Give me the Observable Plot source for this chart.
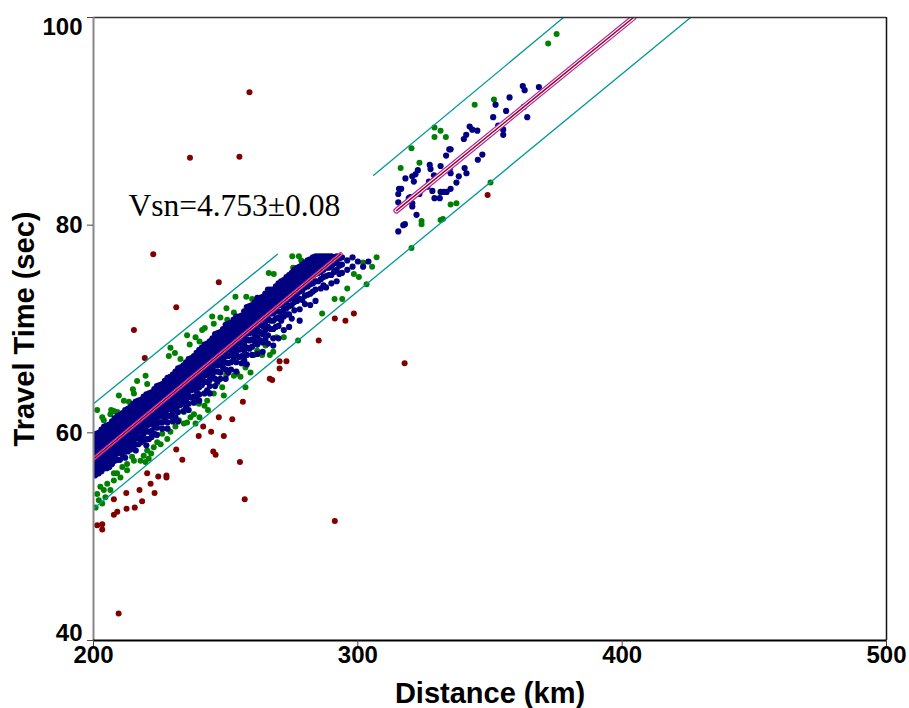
<!DOCTYPE html>
<html>
<head>
<meta charset="utf-8">
<script src="https://cdn.jsdelivr.net/npm/d3@7"></script>
<script src="https://cdn.jsdelivr.net/npm/@observablehq/plot@0.6"></script>
<style>
  html, body { margin: 0; padding: 0; background: white; }
  #chart svg { display: block; }
</style>
</head>
<body>
<div id="chart"></div>
<script>
// ---- axes ----
const xTicks = [200, 300, 400, 500];
const yTicks = [40, 60, 80, 100];
const xLabel = "Distance (km)";
const yLabel = "Travel Time (sec)";
const annotation = { x: 213.2, y: 83.0, text: "Vsn=4.753\u00b10.08" };

// ---- blue points (within ~2-3 s of the fit), columns [x, [y...]] ----
const blueCols = [
  [200.5, [59.8, 59.3, 58.8, 58.3, 57.8, 57.3, 56.8, 56.3, 55.9]],
  [201, [59.9, 59.4, 58.9, 58.4, 57.9, 57.4, 56.9, 56.4, 56.0]],
  [202, [60.0, 59.5, 59.0, 58.5, 58.0, 57.5, 57.0, 56.5, 56.1]],
  [203, [60.3, 59.8, 59.3, 58.8, 58.3, 57.8, 57.3, 56.8, 56.3]],
  [204, [60.6, 60.1, 59.6, 59.1, 58.6, 58.1, 57.6, 57.1, 56.6]],
  [205, [60.7, 60.2, 59.7, 59.2, 58.7, 58.2, 57.7, 57.2, 56.6]],
  [206, [60.8, 60.3, 59.8, 59.3, 58.8, 58.3, 57.8, 57.3, 56.7]],
  [207, [61.1, 60.6, 60.1, 59.6, 59.1, 58.6, 58.1, 57.6, 57.0]],
  [208, [61.4, 60.9, 60.4, 59.9, 59.4, 58.9, 58.4, 57.9, 57.3]],
  [209, [61.6, 61.1, 60.6, 60.1, 59.5, 59.0, 58.5, 58.0, 57.4]],
  [210, [61.7, 61.2, 60.7, 60.2, 59.7, 59.2, 58.7, 58.1, 57.4]],
  [211, [61.9, 61.4, 60.9, 60.4, 59.9, 59.4, 58.9, 58.4, 57.9]],
  [212, [62.2, 61.7, 61.2, 60.7, 60.2, 59.7, 59.2, 58.7, 58.2, 57.6]],
  [213, [62.3, 61.8, 61.3, 60.8, 60.3, 59.8, 59.3, 58.8, 58.2]],
  [214, [62.5, 62.0, 61.5, 61.0, 60.5, 60.0, 59.5, 58.9, 58.4]],
  [215, [62.8, 62.3, 61.8, 61.3, 60.8, 60.3, 59.7, 59.2, 58.6]],
  [216, [63.0, 62.5, 62.0, 61.5, 61.0, 60.5, 60.0, 59.5, 58.9, 58.3]],
  [217, [63.1, 62.6, 62.1, 61.6, 61.1, 60.6, 60.1, 59.5, 58.9]],
  [218, [63.2, 62.7, 62.2, 61.7, 61.2, 60.7, 60.2, 59.6, 59.1]],
  [219, [63.5, 63.0, 62.5, 62.0, 61.5, 61.0, 60.4, 59.9, 59.3]],
  [220, [63.7, 63.2, 62.7, 62.2, 61.7, 61.2, 60.7, 60.2, 59.4, 58.8]],
  [221, [63.8, 63.3, 62.8, 62.3, 61.8, 61.3, 60.8, 60.1, 59.4]],
  [222, [63.9, 63.4, 62.9, 62.4, 61.9, 61.4, 60.9, 60.2, 59.6]],
  [223, [64.2, 63.7, 63.2, 62.7, 62.2, 61.7, 61.2, 60.6, 59.9]],
  [224, [64.5, 64.0, 63.5, 63.0, 62.5, 62.0, 61.5, 61.0, 60.5, 59.8]],
  [225, [64.6, 64.1, 63.6, 63.1, 62.6, 62.1, 61.6, 61.0]],
  [226, [64.7, 64.2, 63.7, 63.2, 62.7, 62.2, 61.7, 61.0, 60.4]],
  [227, [65.0, 64.5, 64.0, 63.5, 63.0, 62.5, 62.0, 61.3]],
  [228, [65.3, 64.8, 64.3, 63.8, 63.3, 62.8, 62.3, 61.7, 61.0, 60.4]],
  [229, [65.4, 64.9, 64.4, 63.9, 63.4, 62.9, 62.3, 61.6]],
  [230, [65.6, 65.1, 64.6, 64.1, 63.6, 63.1, 62.5, 61.9, 61.1]],
  [231, [65.9, 65.4, 64.9, 64.4, 63.9, 63.4, 62.8, 62.2, 61.5]],
  [232, [66.2, 65.7, 65.2, 64.7, 64.2, 63.7, 63.2, 62.6, 62.0, 61.1]],
  [233, [66.3, 65.8, 65.3, 64.8, 64.3, 63.8, 63.3, 62.7]],
  [234, [66.5, 66.0, 65.5, 65.0, 64.5, 64.0, 63.5, 62.9, 62.1]],
  [235, [66.8, 66.3, 65.8, 65.3, 64.8, 64.3, 63.7, 63.1, 62.4]],
  [236, [67.1, 66.6, 66.1, 65.6, 65.1, 64.6, 64.0, 63.5, 62.8, 62.2]],
  [237, [67.2, 66.7, 66.2, 65.7, 65.2, 64.7, 64.1, 63.4]],
  [238, [67.4, 66.9, 66.4, 65.9, 65.4, 64.9, 64.3, 63.5, 62.9]],
  [239, [67.7, 67.2, 66.7, 66.2, 65.7, 65.2, 64.6, 64.0, 63.3]],
  [240, [68.0, 67.5, 67.0, 66.5, 66.0, 65.5, 65.0, 64.4, 63.7, 63.1]],
  [241, [68.2, 67.7, 67.2, 66.7, 66.2, 65.7, 65.2, 64.6]],
  [242, [68.5, 68.0, 67.5, 67.0, 66.5, 66.0, 65.5, 64.9, 63.8]],
  [243, [68.6, 68.1, 67.6, 67.1, 66.6, 66.1, 65.6, 64.9, 64.1]],
  [244, [68.8, 68.3, 67.8, 67.3, 66.8, 66.3, 65.8, 65.1, 64.5, 63.8]],
  [245, [69.1, 68.6, 68.1, 67.6, 67.1, 66.6, 66.1, 65.5]],
  [246, [69.5, 69.0, 68.5, 68.0, 67.5, 67.0, 66.5, 65.9, 65.2, 64.5]],
  [247, [69.6, 69.1, 68.6, 68.1, 67.6, 67.1, 66.5, 65.9, 65.0]],
  [248, [69.7, 69.2, 68.7, 68.2, 67.7, 67.2, 66.6, 65.8, 65.2]],
  [249, [70.0, 69.5, 69.0, 68.5, 68.0, 67.5, 67.0, 66.3]],
  [250, [70.4, 69.9, 69.4, 68.9, 68.4, 67.9, 67.4, 66.8, 66.1, 65.2]],
  [251, [70.5, 70.0, 69.5, 69.0, 68.5, 68.0, 67.4, 66.7, 65.8]],
  [252, [70.6, 70.1, 69.6, 69.1, 68.6, 68.1, 67.5, 66.8, 66.1]],
  [253, [70.9, 70.4, 69.9, 69.4, 68.9, 68.4, 67.8, 67.1]],
  [254, [71.2, 70.7, 70.2, 69.7, 69.2, 68.7, 68.1, 67.5, 66.8, 65.9]],
  [255, [71.2, 70.7, 70.2, 69.7, 69.2, 68.6, 68.0, 67.3]],
  [256, [71.3, 70.8, 70.3, 69.8, 69.3, 68.7, 68.1, 67.4, 66.7]],
  [257, [71.7, 71.2, 70.7, 70.2, 69.7, 69.2, 68.6, 67.9, 67.0]],
  [258, [72.1, 71.6, 71.1, 70.6, 70.1, 69.6, 69.0, 68.2, 67.5, 66.6]],
  [259, [72.2, 71.7, 71.2, 70.7, 70.2, 69.6, 68.9, 68.1]],
  [260, [72.3, 71.8, 71.3, 70.8, 70.3, 69.7, 69.0, 68.3, 67.5]],
  [261, [72.6, 72.1, 71.6, 71.1, 70.6, 70.1, 69.5, 68.8]],
  [262, [73.0, 72.5, 72.0, 71.5, 71.0, 70.5, 69.9, 69.2, 68.5, 67.6]],
  [263, [73.0, 72.5, 72.0, 71.5, 71.0, 70.4, 69.7, 68.9]],
  [264, [73.1, 72.6, 72.1, 71.6, 71.0, 70.3, 69.5, 68.7, 67.8]],
  [265, [73.4, 72.9, 72.4, 71.9, 71.3, 70.7, 69.9, 69.0]],
  [266, [73.8, 73.3, 72.8, 72.2, 71.6, 71.0, 70.2, 69.4, 68.6]],
  [267, [73.8, 73.3, 72.7, 72.1, 71.5, 70.8, 70.0]],
  [268, [73.8, 73.3, 72.8, 72.2, 71.5, 70.8, 70.0, 69.1, 68.4]],
  [269, [74.1, 73.6, 73.0, 72.4, 71.7, 71.0, 70.2]],
  [270, [74.4, 73.9, 73.4, 72.8, 72.3, 71.7, 71.1, 70.3, 69.1]],
  [271, [74.6, 74.0, 73.5, 72.9, 72.3, 71.6, 70.8]],
  [272, [74.7, 74.2, 73.6, 73.1, 72.5, 71.9, 71.2, 69.9]],
  [273, [75.0, 74.4, 73.8, 73.3, 72.6, 72.0, 71.4]],
  [274, [75.2, 74.7, 74.1, 73.5, 72.9, 72.2, 71.4, 70.2]],
  [275, [75.4, 74.8, 74.2, 73.6, 73.0, 72.3, 71.0]],
  [276, [75.7, 75.1, 74.5, 73.9, 73.2, 72.6, 71.8]],
  [277, [75.9, 75.3, 74.7, 74.0, 73.4, 72.7]],
  [278, [76.0, 75.5, 74.9, 74.3, 73.6, 72.9, 71.9, 70.8]],
  [279, [76.2, 75.6, 75.0, 74.4, 73.7, 72.8]],
  [280, [76.4, 75.9, 75.3, 74.7, 74.0, 73.2, 72.4]],
  [281, [76.6, 76.0, 75.4, 74.8, 74.1, 73.3]],
  [282, [76.7, 76.2, 75.6, 75.0, 74.3, 73.4, 72.3]],
  [283, [76.9, 76.3, 75.7, 75.1, 74.4, 73.6]],
  [284, [77.0, 76.5, 75.9, 75.3, 74.6, 73.8, 72.7]],
  [285, [77.0, 76.6, 76.0, 75.4, 74.6]],
  [286, [77.0, 76.7, 76.1, 75.5, 74.8, 73.9]],
  [287, [77.0, 76.4, 75.7, 75.0, 74.2]],
  [288, [77.0, 76.5, 75.9, 75.1, 74.0]],
  [289, [77.0, 76.6, 75.9, 75.2]],
  [290, [77.0, 76.6, 76.0, 75.2, 74.4]],
  [291, [76.9, 76.3, 75.5]],
  [292, [77.0, 76.4, 75.7, 74.6]],
  [293, [76.8, 76.1, 75.3]],
  [294, [76.9, 76.2, 75.4]],
  [296, [76.6, 75.7]],
  [298, [76.9, 76.0]],
  [300, [76.5]],
  [302, [76.0]],
  [304, [76.5]]
];
// blue points of the far branch
const blueFar = [
  [362.4,93.4],[363.1,93.0],[368.5,93.3],[357.4,92.3],[352.1,91.6],[356.1,91.0],[351.2,90.4],
  [362.8,91.4],[364.1,90.4],[353.1,89.6],[355.0,89.2],[355.0,88.7],[342.3,89.5],[343.3,89.2],
  [345.2,89.1],[341.0,88.7],[340.1,88.3],[334.6,87.3],[335.1,87.3],[333.4,86.7],[347.1,86.8],
  [345.4,86.3],[327.2,85.8],[327.5,85.4],[331.3,85.7],[334.8,85.4],[335.1,85.0],[340.4,85.5],
  [341.1,85.0],[338.2,84.7],[322.7,85.3],[321.8,84.9],[320.6,84.7],[321.2,84.2],[318.0,84.5],
  [328.8,84.8],[326.9,84.2],[326.3,83.7],[328.2,83.3],[337.3,84.1],[335.1,83.5],[331.3,83.2],
  [332.5,83.2],[333.6,83.2],[329.0,82.6],[331.0,82.6],[323.3,83.0],[319.9,82.7],[320.6,82.1],
  [320.6,81.8],[319.3,82.6],[315.6,83.5],[315.3,83.0],[315.3,82.2],[316.4,83.5],[322.2,81.0],
  [317.8,80.1],[317.2,80.0],[315.3,79.4]
];
// green points (about 3-5 s from the fit)
const greenPts = [
  [275.2,77.0],[277.7,77.0],[285.9,76.6],[288.7,76.8],[307.1,76.9],[305.4,76.0],[266.3,75.4],
  [268.2,75.3],[298.5,75.3],[300.4,75.0],[303.3,74.3],[296.0,73.9],[291.2,72.9],[294.1,72.9],
  [286.5,71.5],[253.7,73.1],[257.8,73.1],[260.0,72.9],[250.3,72.0],[253.1,71.6],[244.9,71.2],
  [248.0,71.1],[250.6,70.9],[242.1,70.1],[241.1,69.9],[245.5,70.5],[238.6,69.2],[235.4,69.4],
  [240.1,68.8],[236.4,68.5],[229.1,68.2],[230.8,67.7],[228.5,67.4],[232.9,67.1],[219.7,65.5],
  [216.5,65.0],[220.3,64.7],[214.9,64.2],[215.3,63.8],[209.6,63.6],[211.5,63.1],[213.4,63.0],
  [206.7,62.2],[207.7,62.1],[206.4,61.8],[209.0,62.0],[201.4,62.2],[203.3,61.5],[203.9,61.2],
  [278.6,76.6],[275.5,75.9],[302.0,76.4],
  [272.0,69.2],[269.2,69.2],[277.4,68.9],[265.1,68.4],[268.0,67.8],[266.7,67.5],[263.8,67.5],
  [260.7,67.5],[256.5,67.3],[261.9,67.9],[257.5,66.3],[259.4,65.8],[254.4,65.7],[253.1,65.5],
  [255.6,65.4],[257.5,64.4],[250.2,65.6],[246.8,64.8],[248.7,64.4],[249.3,63.6],[245.5,63.8],
  [243.0,63.1],[242.0,62.6],[243.3,62.2],[239.9,62.8],[238.0,61.8],[236.7,61.5],[234.2,62.0],
  [232.3,61.2],[234.2,60.9],[235.4,61.0],[238.6,60.9],[240.1,61.5],[231.0,60.6],[229.1,60.1],
  [226.0,59.9],[227.9,59.4],[224.1,59.1],[225.4,58.9],[222.8,58.6],[220.3,58.3],[221.8,58.0],
  [219.0,57.8],[217.8,57.3],[220.9,57.5],[219.7,57.2],[214.6,57.7],[215.3,57.3],[212.7,57.0],
  [210.9,56.7],[212.7,56.4],[208.9,56.1],[210.2,55.7],[207.7,55.4],[205.2,55.1],[202.6,54.8],
  [203.9,54.5],[201.4,54.1],[202.0,53.5],[204.5,53.8],[206.4,54.5],[203.3,53.2],[200.8,52.8],
  [207.7,56.1],
  [375.2,98.4],[372.0,97.5],[351.5,92.1],[344.2,91.6],[329.0,89.4],[329.0,88.5],[331.3,89.1],
  [333.3,88.5],[320.3,87.4],[316.2,85.5],[323.3,86.0],[350.2,84.1],[335.1,82.0],[337.3,82.1],
  [324.1,80.4],[324.1,80.1],[331.3,80.5],[332.2,80.6],[320.3,77.8]
];
// dark red points (outliers)
const redPts = [
  [222.6,77.2],[247.4,74.5],[231.3,72.1],[215.3,69.9],[219.4,67.2],[256.5,63.0],[252.5,61.3],
  [247.4,61.5],[241.5,60.6],[244.5,60.1],[249.3,59.7],[239.8,59.7],[231.3,58.4],[233.6,57.4],
  [245.3,58.2],[246.2,57.9],[255.4,57.2],[227.6,55.9],[224.5,55.8],[227.6,55.7],[220.3,56.1],
  [221.6,55.1],[217.4,54.5],[212.4,54.2],[223.1,54.2],[218.4,53.4],[207.7,53.6],[215.6,52.8],
  [212.5,52.7],[209.0,52.4],[207.7,52.1],[257.2,53.6],[291.3,51.5],[201.4,51.1],[203.3,51.2],
  [203.3,50.7],[291.3,71.0],[295.3,70.8],[298.5,71.5],[285.2,68.9],[270.4,66.9],[273.0,66.9],
  [270.4,66.2],[266.7,65.2],[267.6,65.1],[209.5,42.6],[236.5,86.5],[255.2,86.6],[259.0,92.8],
  [317.7,66.7],[349.1,82.9]
];
// fit line segments (x, y)
const fitNear = [[200, 57.5], [293.5, 77.2]];
const fitFar = [[314.6, 81.4], [404.3, 100]];
// band limits (teal)
const bandSegments = [
  [[200, 62.8], [269.6, 77.2]],
  [[306, 84.8], [377.8, 100]],
  [[200, 52.7], [425.9, 100]]
];

// ---- build tables ----
const blueRows = blueCols.flatMap(([x, ys]) => ys.map(y => ({x, y})))
  .concat(blueFar.map(([x, y]) => ({x, y})));
const greenRows = greenPts.map(([x, y]) => ({x, y}));
const redRows = redPts.map(([x, y]) => ({x, y}));
const ptRows = seg => seg.map(([x, y]) => ({x, y}));
const bandRows = bandSegments.flatMap((s, i) => s.map(([x, y]) => ({x, y, seg: i})));

const sans = "'Liberation Sans', Arial, Helvetica, sans-serif";
const serif = "'Liberation Serif', 'Times New Roman', serif";
const tickFont = { fontSize: 24, fontWeight: "bold", fill: "black" };

const fitMarks = (rows, outer, inner, core) => [
  Plot.line(rows, { x: "x", y: "y", stroke: "#b020b0", strokeWidth: outer, clip: true }),
  Plot.line(rows, { x: "x", y: "y", stroke: "#ffffff", strokeWidth: inner, clip: true }),
  Plot.line(rows, { x: "x", y: "y", stroke: "#a00010", strokeWidth: core, clip: true })
];

const chart = Plot.plot({
  width: 909,
  height: 708,
  marginLeft: 93,
  marginRight: 23,
  marginTop: 17,
  marginBottom: 68,
  style: { fontFamily: sans, background: "white", color: "black" },
  x: { domain: [200, 500] },
  y: { domain: [40, 100] },
  marks: [
    Plot.dot(redRows, { x: "x", y: "y", r: 3, fill: "#800000", stroke: "none", clip: true }),
    Plot.dot(greenRows, { x: "x", y: "y", r: 3, fill: "#008000", stroke: "none", clip: true }),
    Plot.dot(blueRows, { x: "x", y: "y", r: 3.1, fill: "#000080", stroke: "none", clip: true }),
    Plot.line(bandRows, { x: "x", y: "y", z: "seg", stroke: "#009999", strokeWidth: 1.3, clip: true }),
    ...fitMarks(ptRows(fitNear), 4.2, 2.0, 1.6),
    ...fitMarks(ptRows(fitFar), 6, 3.6, 1.4),
    Plot.ruleY([100], { stroke: "#333", strokeWidth: 1.5 }),
    Plot.ruleX([500], { stroke: "#111", strokeWidth: 1.5 }),
    Plot.ruleX([200], { stroke: "#888", strokeWidth: 2 }),
    Plot.ruleY([40], { stroke: "#000", strokeWidth: 2 }),
    Plot.axisX({ ticks: xTicks, tickSize: 6, tickPadding: -1, ...tickFont,
      label: null, tickFormat: d => String(d), stroke: "#444" }),
    Plot.axisY({ ticks: yTicks, tickSize: 6, label: null, tickFormat: () => "", stroke: "#444" }),
    Plot.text(yTicks.filter(d => d > 40 && d < 100), { y: d => d, text: d => String(d),
      frameAnchor: "left", dx: -11, textAnchor: "end", lineAnchor: "middle", ...tickFont }),
    Plot.text(yTicks.filter(d => d === 40), { y: d => d, text: d => String(d),
      frameAnchor: "left", dx: -11, dy: -17, textAnchor: "end", lineAnchor: "top", ...tickFont }),
    Plot.text(yTicks.filter(d => d === 100), { y: d => d, text: d => String(d),
      frameAnchor: "left", dx: -11, dy: 0, textAnchor: "end", lineAnchor: "top", ...tickFont }),
    Plot.text([xLabel], { frameAnchor: "bottom", lineAnchor: "top", textAnchor: "middle", dy: 42,
      text: d => d, fontSize: 29, fontWeight: "bold", fill: "black" }),
    Plot.text([yLabel], { frameAnchor: "left", lineAnchor: "top", textAnchor: "middle", rotate: -90,
      dx: -80, text: d => d, fontSize: 29, fontWeight: "bold", fill: "black" }),
    Plot.text([annotation], { x: "x", y: "y", text: "text", textAnchor: "start", lineAnchor: "top",
      fontFamily: serif, fontSize: 31.5, fill: "black" })
  ]
});
document.getElementById("chart").appendChild(chart);
</script>
</body>
</html>
